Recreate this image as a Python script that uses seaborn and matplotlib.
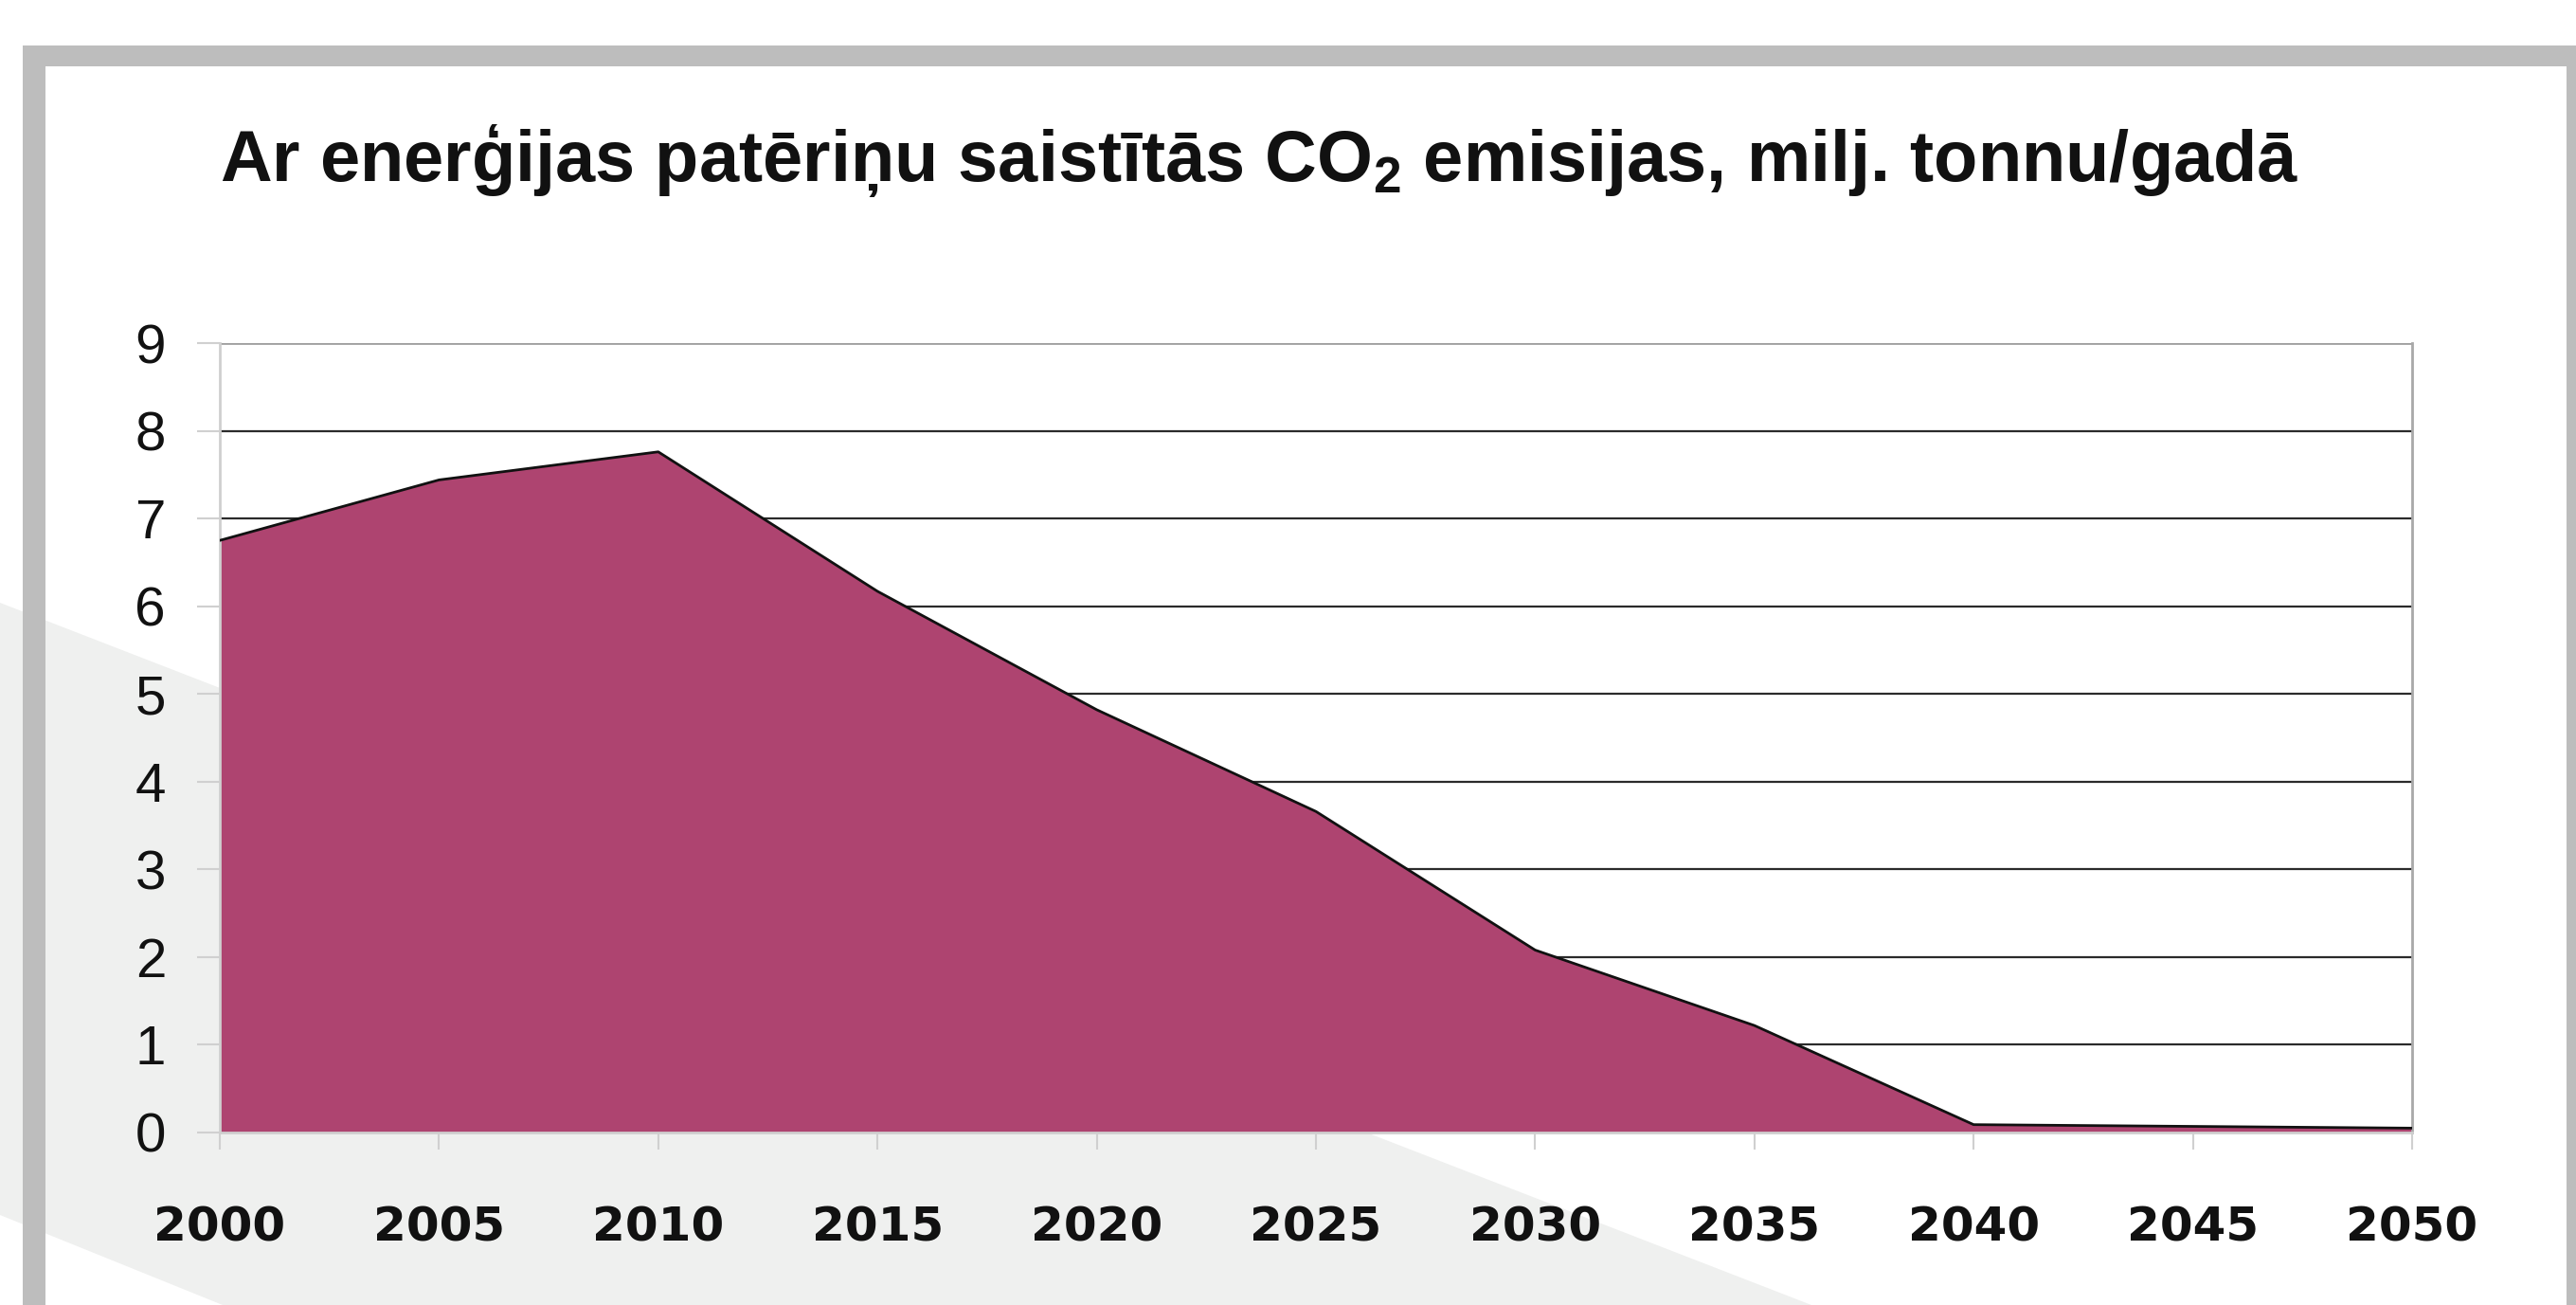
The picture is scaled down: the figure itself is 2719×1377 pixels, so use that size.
import matplotlib.pyplot as plt
from matplotlib.patches import Polygon, Rectangle
import pandas as pd
import seaborn as sns

# data
years = [2000, 2005, 2010, 2015, 2020, 2025, 2030, 2035, 2040, 2045, 2050]
emissions = [6.75, 7.44, 7.76, 6.17, 4.82, 3.66, 2.08, 1.22, 0.09, 0.07, 0.05]
y_ticks = list(range(0, 10))
title = r"Ar enerģijas patēriņu saistītās CO$_\mathbf{2}$ emisijas, milj. tonnu/gadā"

W, H = 2719, 1377
FILL = "#ae4470"
FRAME = "#bdbdbd"
BAND = "#eff0ef"


def px(x, y):
    # pixel position -> figure fraction
    return (x / W, 1 - y / H)


def plot():
    sns.set_style("white")
    plt.rcParams["font.family"] = ["Liberation Sans", "DejaVu Sans"]
    plt.rcParams["mathtext.fontset"] = "custom"
    plt.rcParams["mathtext.bf"] = "Liberation Sans:bold"
    plt.rcParams["mathtext.rm"] = "Liberation Sans"

    df = pd.DataFrame({"year": years, "co2": emissions})

    fig = plt.figure(figsize=(W / 100, H / 100), dpi=100)
    fig.patch.set_facecolor("white")

    # light diagonal band in the background
    band = Polygon([px(0, 636), px(1912, H), px(235, H), px(0, 1282)],
                   closed=True, transform=fig.transFigure, facecolor=BAND,
                   edgecolor="none", zorder=-2)
    fig.patches.append(band)

    # grey frame (top, left, right)
    for x0, y0, x1, y1 in [(24, 48, W, 70), (24, 48, 48, H), (2709, 48, W, H)]:
        a = px(x0, y1)
        b = px(x1, y0)
        fig.patches.append(Rectangle(a, b[0] - a[0], b[1] - a[1],
                                     transform=fig.transFigure, facecolor=FRAME,
                                     edgecolor="none", zorder=-1))

    left, right = 232 / W, 2546 / W
    bottom, top = 1 - 1195 / H, 1 - 362 / H
    ax = fig.add_axes([left, bottom, right - left, top - bottom])
    ax.set_facecolor("white")

    # grid lines first so the area sits on top
    for t in y_ticks[1:-1]:
        ax.axhline(t, color="#2b2b2b", lw=1.6, zorder=0)
    ax.axhline(9, color="#a0a0a0", lw=2.0, zorder=0)

    ax.fill_between(df["year"], df["co2"], 0, color=FILL, zorder=2, lw=0)
    sns.lineplot(data=df, x="year", y="co2", ax=ax, color="#111111",
                 lw=2.0, zorder=3, sort=False)

    ax.set_xlim(2000, 2050)
    ax.set_ylim(0, 9)
    ax.set_xticks(years)
    ax.set_yticks(y_ticks)
    ax.set_xlabel("")
    ax.set_ylabel("")

    for side in ["left", "bottom"]:
        ax.spines[side].set_color("#cfcfcf")
        ax.spines[side].set_linewidth(2.0)
    ax.spines["right"].set_color("#a8a8a8")
    ax.spines["right"].set_linewidth(2.0)
    ax.spines["top"].set_visible(False)

    ax.tick_params(axis="y", length=17, width=1.5, color="#d0d0d0", pad=24,
                   labelsize=42, labelcolor="#111111", direction="out", left=True)
    ax.tick_params(axis="x", length=13, width=1.5, color="#d0d0d0", pad=42,
                   labelsize=36, labelcolor="#111111", direction="out", bottom=True)
    for lab in ax.get_xticklabels():
        lab.set_fontfamily("DejaVu Sans")
        lab.set_fontweight("bold")

    fig.text(0.489, 0.877, title, ha="center", va="center",
             fontsize=54.5, fontweight="bold", color="#111111")

    fig.savefig("out.png", dpi=100)


plot()
